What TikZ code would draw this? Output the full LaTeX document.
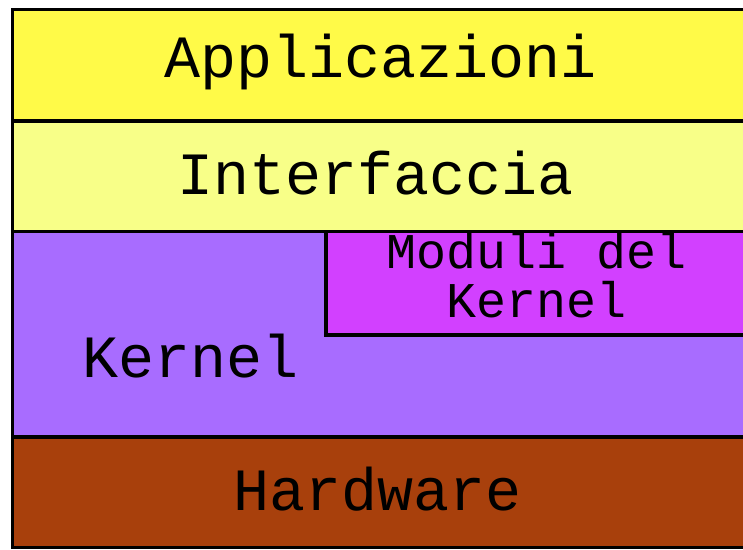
\documentclass[tikz,border=0pt]{standalone}
\usepackage{fontspec}
\setmonofont{Liberation Mono}
\definecolor{appyellow}{RGB}{255,250,72}
\definecolor{ifyellow}{RGB}{248,255,136}
\definecolor{kernelviolet}{RGB}{168,108,255}
\definecolor{modmagenta}{RGB}{210,64,255}
\definecolor{hwbrown}{RGB}{168,64,12}
\begin{document}
\begin{tikzpicture}[x=1pt,y=-1pt]
\tikzset{layer/.style={draw=black,line width=3.5pt},
	lbl/.style={font=\ttfamily\fontsize{60}{60}\selectfont,anchor=base,inner sep=0pt},
	smalllbl/.style={font=\ttfamily\fontsize{50}{49}\selectfont,anchor=base,align=center,inner sep=0pt}}
\clip (0,0) rectangle (743,549);
\fill[white] (0,0) rectangle (743,549);
% layers
\filldraw[layer,fill=appyellow] (12.5,9.5) rectangle (760,121);
\filldraw[layer,fill=ifyellow] (12.5,121) rectangle (760,231.5);
\filldraw[layer,fill=kernelviolet] (12.5,231.5) rectangle (760,437);
\filldraw[layer,fill=modmagenta] (326,231.5) rectangle (760,335);
\filldraw[layer,fill=hwbrown] (12.5,437) rectangle (760,547.5);
% labels
\node[lbl] (app) at (381,77) {Applicazioni};
\node[lbl] (iface) at (376,194) {Interfaccia};
\node[lbl] (kern) at (191,377) {Kernel};
\node[smalllbl] (mod) at (537,317) {Moduli del\\Kernel};
\node[lbl] (hw) at (378,510) {Hardware};
\end{tikzpicture}
\end{document}
